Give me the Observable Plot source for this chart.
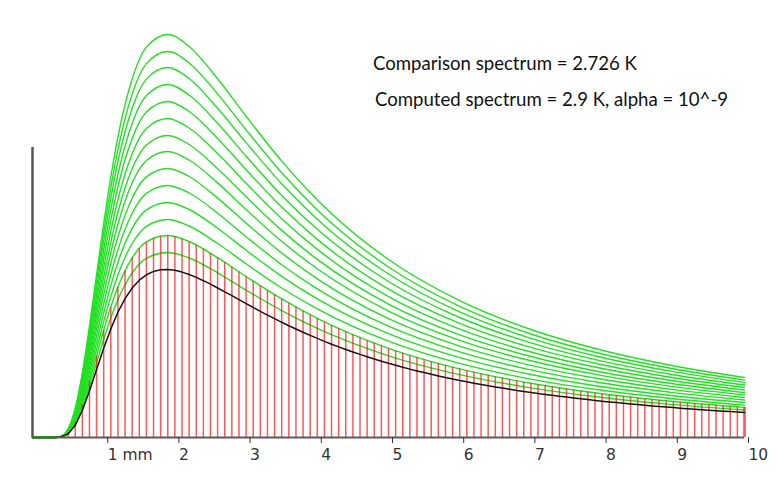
<!DOCTYPE html>
<html>
<head>
<meta charset="utf-8">
<script src="https://cdn.jsdelivr.net/npm/d3@7"></script>
<script src="https://cdn.jsdelivr.net/npm/@observablehq/plot@0.6"></script>
<style>
  html, body { margin: 0; padding: 0; background: #fff; }
  #wrap { position: relative; width: 781px; height: 494px; overflow: hidden; background: #fff; }
  .note { position: absolute; font-family: Lato, "Open Sans", sans-serif; font-size: 18.6px; line-height: 19px; color: #111; white-space: nowrap; }
</style>
</head>
<body>
<div id="wrap">
  <div class="note" id="n1" style="left:373px; top:54px;"></div>
  <div class="note" id="n2" style="left:375px; top:90px;"></div>
</div>
<script>
// ---- text ----
const noteLines = ["Comparison spectrum = 2.726 K", "Computed spectrum = 2.9 K, alpha = 10^-9"];
const xTicks = [1, 2, 3, 4, 5, 6, 7, 8, 9, 10];
const xTickLabels = ["1 mm", "2", "3", "4", "5", "6", "7", "8", "9", "10"];
const yAxisTop = 290; // top of the plain vertical axis line (intensity units)

// ---- wavelengths (mm) for bars and comparison curve ----
const wavelengths = [0,0.1,0.2,0.3,0.4,0.5,0.6,0.7,0.8,0.9,1,
 1.1,1.2,1.3,1.4,1.5,1.6,1.7,1.8,1.9,2,
 2.1,2.2,2.3,2.4,2.5,2.6,2.7,2.8,2.9,3,
 3.1,3.2,3.3,3.4,3.5,3.6,3.7,3.8,3.9,4,
 4.1,4.2,4.3,4.4,4.5,4.6,4.7,4.8,4.9,5,
 5.1,5.2,5.3,5.4,5.5,5.6,5.7,5.8,5.9,6,
 6.1,6.2,6.3,6.4,6.5,6.6,6.7,6.8,6.9,7,
 7.1,7.2,7.3,7.4,7.5,7.6,7.7,7.8,7.9,8,
 8.1,8.2,8.3,8.4,8.5,8.6,8.7,8.8,8.9,9,
 9.1,9.2,9.3,9.4,9.5,9.6,9.7,9.8,9.9,10];

// comparison spectrum (2.726 K), black line
const comparison = [0,0,0,0,0.5,3.6,12.2,27.0,46.4,67.9,89.2,
 108.6,125.3,138.9,149.5,157.3,162.7,166.1,167.7,168.0,167.2,
 165.4,163.0,160.1,156.8,153.3,149.5,145.7,141.8,137.8,133.9,
 130.0,126.2,122.4,118.8,115.2,111.8,108.5,105.2,102.1,99.1,
 96.1,93.3,90.6,88.0,85.5,83.1,80.8,78.5,76.3,74.2,
 72.2,70.3,68.4,66.6,64.9,63.2,61.6,60.1,58.5,57.1,
 55.7,54.3,53.0,51.8,50.5,49.4,48.2,47.1,46.1,45.0,
 44.0,43.1,42.2,41.2,40.4,39.5,38.7,37.9,37.1,36.3,
 35.6,34.9,34.2,33.5,32.9,32.2,31.6,31.0,30.5,29.9,
 29.3,28.8,28.3,27.8,27.3,26.8,26.3,25.9,25.4,25.0];

// computed spectrum (2.9 K), red bars
const computed = [0,0,0,0,0.6,4.4,14.6,32.4,55.7,81.5,107.0,
 130.3,150.4,166.7,179.4,188.8,195.2,199.3,201.2,201.6,200.6,
 198.5,195.6,192.1,188.2,184.0,179.4,174.8,170.2,165.4,160.7,
 156.0,151.4,146.9,142.6,138.2,134.2,130.2,126.2,122.5,118.9,
 115.3,112.0,108.7,105.6,102.6,99.7,97.0,94.2,91.6,89.0,
 86.6,84.4,82.1,79.9,77.9,75.8,73.9,72.1,70.2,68.5,
 66.8,65.2,63.6,62.2,60.6,59.3,57.8,56.5,55.3,54.0,
 52.8,51.7,50.6,49.4,48.5,47.4,46.4,45.5,44.5,43.6,
 42.7,41.9,41.0,40.2,39.5,38.6,37.9,37.2,36.6,35.9,
 35.2,34.6,34.0,33.4,32.8,32.2,31.6,31.1,30.5,30.0];

// ---- green family of curves ----
const greenWavelengths = [0,0.3,0.4,0.5,0.6,0.7,0.8,0.9,1.0,1.1,1.2,1.4,1.6,1.9,2.2,2.6,3.0,3.5,4.0,5.0,6.0,7.0,8.0,9.0,10];
const green01 = [0,0,0.6,4.0,13.4,29.7,51.1,74.7,98.2,119.6,137.9,164.6,179.2,185,179.5,164.7,147.4,126.9,109.1,81.7,62.9,49.6,40.0,32.9,27.5];
const green02 = [0,0,0.6,4.4,14.6,32.4,55.8,81.6,107.2,130.6,150.6,179.7,195.7,202,196.0,179.8,161.0,138.6,119.1,89.2,68.6,54.2,43.7,36.0,30.1];
const green03 = [0,0,0.7,4.7,15.8,35.0,60.2,88.1,115.7,140.9,162.5,194.0,211.2,218,211.5,194.0,173.7,149.5,128.6,96.3,74.1,58.4,47.2,38.8,32.4];
const green04 = [0,0,0.7,5.1,17.0,37.7,64.9,94.9,124.7,151.9,175.2,209.1,227.6,235,228.0,209.2,187.3,161.2,138.6,103.8,79.9,63.0,50.8,41.8,35.0];
const green05 = [0,0,0.8,5.4,18.2,40.4,69.6,101.8,133.7,162.9,187.9,224.2,244.1,252,244.5,224.3,200.8,172.8,148.6,111.3,85.6,67.6,54.5,44.9,37.5];
const green06 = [0,0,0.8,5.8,19.5,43.2,74.2,108.7,142.8,173.9,200.6,239.3,260.6,269,261.0,239.4,214.4,184.5,158.6,118.8,91.4,72.1,58.2,47.9,40.0];
const green07 = [0,0,0.9,6.2,20.7,45.9,78.9,115.5,151.8,184.8,213.2,254.5,277.0,286,277.5,254.6,227.9,196.2,168.7,126.4,97.2,76.7,61.9,50.9,42.6];
const green08 = [0,0,0.9,6.5,21.9,48.5,83.4,122.0,160.3,195.2,225.2,268.7,292.5,302,293.0,268.8,240.7,207.1,178.1,133.4,102.6,81.0,65.3,53.8,44.9];
const green09 = [0,0,1.0,6.9,23.1,51.2,88.0,128.9,169.3,206.2,237.8,283.8,309.0,319,309.5,283.9,254.2,218.8,188.1,140.9,108.4,85.5,69.0,56.8,47.5];
const green10 = [0,0,1.0,7.3,24.3,53.9,92.7,135.7,178.3,217.2,250.5,298.9,325.5,336,326.0,299.1,267.8,230.5,198.1,148.4,114.2,90.1,72.7,59.8,50.0];
const green11 = [0,0,1.1,7.6,25.6,56.7,97.4,142.6,187.3,228.1,263.2,314.1,341.9,353,342.5,314.2,281.3,242.1,208.2,156.0,120.0,94.6,76.4,62.8,52.5];
const green12 = [0,0,1.1,8.0,26.8,59.4,102.1,149.5,196.4,239.1,275.9,329.2,358.4,370,359.0,329.3,294.9,253.8,218.2,163.5,125.7,99.2,80.0,65.9,55.1];
const green13 = [0,0,1.2,8.3,27.9,62.0,106.5,155.9,204.9,249.5,287.8,343.4,373.9,386,374.5,343.6,307.6,264.8,227.6,170.5,131.2,103.5,83.5,68.7,57.4];
const green14 = [0,0,1.2,8.7,29.2,64.7,111.2,162.8,213.9,260.5,300.5,358.5,390.4,403,391.0,358.7,321.2,276.4,237.6,178.0,136.9,108.0,87.2,71.7,60.0];
const greenCurves = [green01,green02,green03,green04,green05,green06,green07,green08,green09,green10,green11,green12,green13,green14];

// ---- tables for the library ----
const bars = wavelengths.map((w, i) => ({w, v: computed[i]})).filter(d => d.v > 0);
const blackPts = wavelengths.map((w, i) => ({w, v: comparison[i]}));
const greenPts = greenCurves.flatMap((arr, k) => arr.map((v, i) => ({w: greenWavelengths[i], v, k})));

document.getElementById("n1").textContent = noteLines[0];
document.getElementById("n2").textContent = noteLines[1];

const chart = Plot.plot({
  width: 781,
  height: 494,
  marginLeft: 32,
  marginRight: 37,
  marginTop: 0,
  marginBottom: 57,
  style: {background: "transparent", overflow: "visible"},
  x: {domain: [0, 10]},
  y: {domain: [0, 437], axis: null},
  marks: [
    Plot.line(greenPts, {x: "w", y: "v", z: "k", stroke: "#22e022", strokeWidth: 1.4, curve: "monotone-x"}),
    Plot.ruleX(bars, {x: "w", y1: 0, y2: "v", stroke: "#ff1010", strokeOpacity: 0.7,
      strokeWidth: d => d.w === 10 ? 2.6 : 1.5}),
    Plot.line(blackPts, {x: "w", y: "v", stroke: "#141414", strokeWidth: 1.5}),
    Plot.ruleY([0], {x1: 0, x2: 10, stroke: "#5a5a5a", strokeWidth: 2}),
    Plot.ruleX([0], {y1: 0, y2: yAxisTop, stroke: "#555", strokeWidth: 2.5}),
    Plot.axisX(xTicks, {
      anchor: "bottom", label: null, tickSize: 6, tickPadding: 5,
      tickFormat: d => xTickLabels[xTicks.indexOf(d)],
      textAnchor: "start", dx: 4, fontSize: 15.5, fontFamily: "DejaVu Sans", color: "#333"
    })
  ]
});
document.getElementById("wrap").prepend(chart);
chart.style.position = "absolute";
chart.style.left = "0px";
chart.style.top = "0px";
</script>
</body>
</html>
